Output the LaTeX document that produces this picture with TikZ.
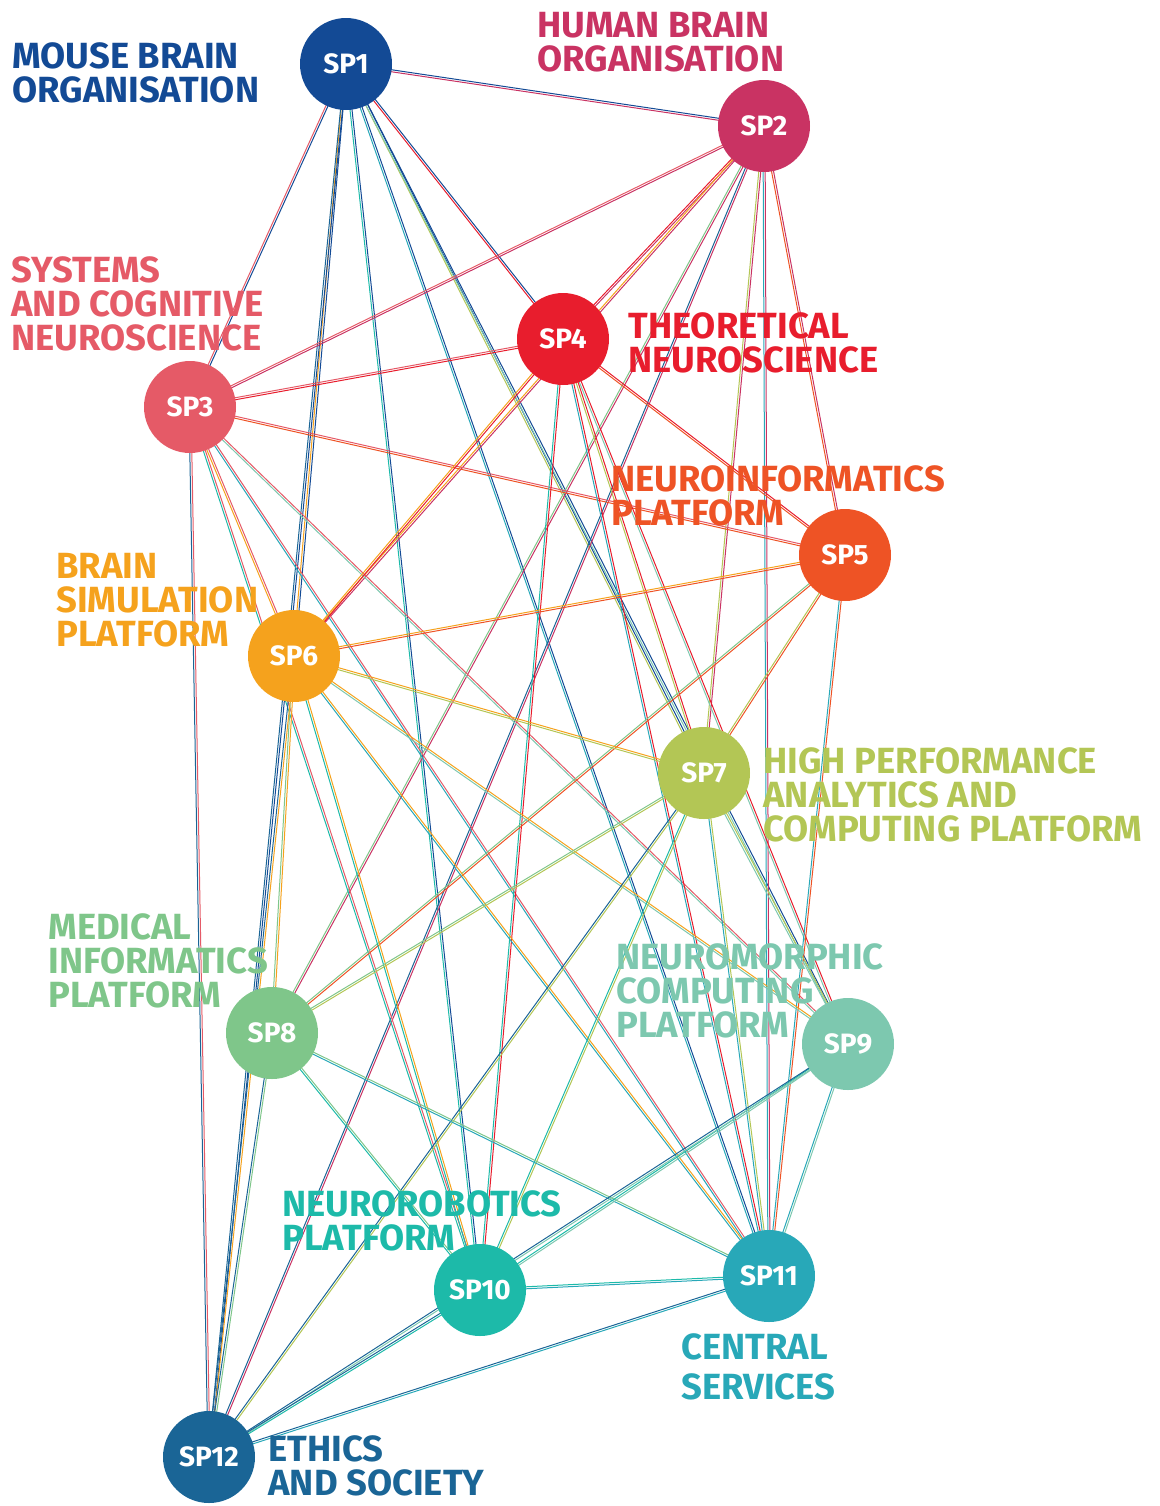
\documentclass[tikz,border=0pt]{standalone}
\usepackage{fontspec}
\setmainfont{Fira Sans}
\usetikzlibrary{calc}
\pgfdeclarelayer{background}
\pgfsetlayers{background,main}
\definecolor{colsp1}{HTML}{134A95}
\definecolor{colsp2}{HTML}{C93363}
\definecolor{colsp3}{HTML}{E55A67}
\definecolor{colsp4}{HTML}{E81D2D}
\definecolor{colsp5}{HTML}{EE5325}
\definecolor{colsp6}{HTML}{F5A21D}
\definecolor{colsp7}{HTML}{B3C655}
\definecolor{colsp8}{HTML}{7FC68A}
\definecolor{colsp9}{HTML}{7DC8AF}
\definecolor{colsp10}{HTML}{1DBAA9}
\definecolor{colsp11}{HTML}{28A8B8}
\definecolor{colsp12}{HTML}{1A6596}
% two thin lines, one in the colour of each end
\newcommand{\splink}[2]{%
  \draw[draw=colsp#1] ($(sp#1)!0.5pt!90:(sp#2)$) -- ($(sp#2)!0.5pt!-90:(sp#1)$);
  \draw[draw=colsp#2] ($(sp#1)!0.5pt!-90:(sp#2)$) -- ($(sp#2)!0.5pt!90:(sp#1)$);}

\begin{document}
\begin{tikzpicture}[x=0.5pt,y=-0.5pt,
  sp/.style={circle,minimum size=46pt,inner sep=0pt,text=white,font=\bfseries\fontsize{14}{14}\selectfont},
  lbl/.style={anchor=north west,inner sep=0pt,align=left,font=\bfseries\fontsize{18.2}{17}\selectfont}]
  \useasboundingbox (0,0) rectangle (1160,1506);
  % subprojects
  \node[sp,fill=colsp1] (sp1) at (346,64) {SP1};
  \node[sp,fill=colsp2] (sp2) at (764,126) {SP2};
  \node[sp,fill=colsp3] (sp3) at (190,407) {SP3};
  \node[sp,fill=colsp4] (sp4) at (563,339) {SP4};
  \node[sp,fill=colsp5] (sp5) at (845,555) {SP5};
  \node[sp,fill=colsp6] (sp6) at (294,656) {SP6};
  \node[sp,fill=colsp7] (sp7) at (704,773) {SP7};
  \node[sp,fill=colsp8] (sp8) at (272,1033) {SP8};
  \node[sp,fill=colsp9] (sp9) at (848,1044) {SP9};
  \node[sp,fill=colsp10] (sp10) at (480,1290) {SP10};
  \node[sp,fill=colsp11] (sp11) at (769,1276) {SP11};
  \node[sp,fill=colsp12] (sp12) at (209,1457) {SP12};
  % names
  \node[lbl,text=colsp1] (mouse) at (12,42) {MOUSE BRAIN\\ORGANISATION};
  \node[lbl,text=colsp2] (human) at (537,12) {HUMAN BRAIN\\ORGANISATION};
  \node[lbl,text=colsp3] (systems) at (11,256) {SYSTEMS\\AND COGNITIVE\\NEUROSCIENCE};
  \node[lbl,text=colsp4] (theory) at (628,312) {THEORETICAL\\NEUROSCIENCE};
  \node[lbl,text=colsp5] (neuroinf) at (611,465) {NEUROINFORMATICS\\PLATFORM};
  \node[lbl,text=colsp6] (brainsim) at (56,553) {BRAIN\\SIMULATION\\PLATFORM};
  \node[lbl,text=colsp7] (hpc) at (763,747) {HIGH PERFORMANCE\\ANALYTICS AND\\COMPUTING PLATFORM};
  \node[lbl,text=colsp8] (medical) at (48,913) {MEDICAL\\INFORMATICS\\PLATFORM};
  \node[lbl,text=colsp9] (neuromorph) at (616,943) {NEUROMORPHIC\\COMPUTING\\PLATFORM};
  \node[lbl,text=colsp10] (neurorob) at (282,1190) {NEUROROBOTICS\\PLATFORM};
  \node[lbl,text=colsp11] (central) at (681,1333) {CENTRAL\\[3pt]SERVICES};
  \node[lbl,text=colsp12] (ethics) at (268,1435) {ETHICS\\AND SOCIETY};
  % links
  \begin{pgfonlayer}{background}
    \begin{scope}[line width=0.5pt]
      \foreach \a/\b in {1/2,1/3,1/4,1/6,1/7,1/9,1/10,1/11,1/12,
                         2/3,2/4,2/5,2/6,2/7,2/8,2/11,2/12,
                         3/4,3/5,3/6,3/9,3/10,3/11,3/12,
                         4/5,4/6,4/7,4/9,4/10,4/11,
                         5/6,5/7,5/8,5/11,
                         6/7,6/8,6/9,6/10,6/11,6/12,
                         7/8,7/9,7/10,7/11,7/12,
                         8/10,8/11,8/12,
                         9/10,9/11,9/12,
                         10/11,10/12,
                         11/12}
        {\splink{\a}{\b}}
    \end{scope}
  \end{pgfonlayer}
\end{tikzpicture}
\end{document}
